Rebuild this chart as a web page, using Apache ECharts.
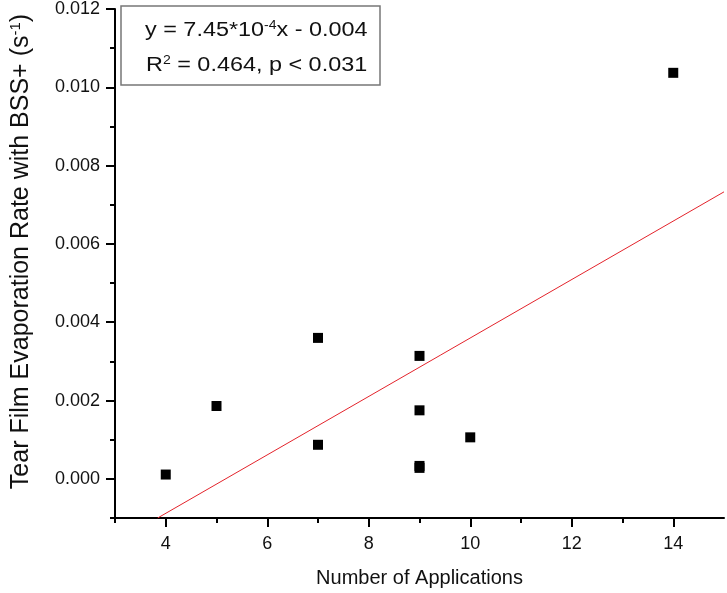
<!DOCTYPE html>
<html>
<head>
<meta charset="utf-8">
<script src="https://cdn.jsdelivr.net/npm/echarts@6/dist/echarts.min.js"></script>
<style>
  html, body { margin: 0; padding: 0; background: #fff; }
  #chart { width: 727px; height: 593px; }
</style>
</head>
<body>
<div id="chart"></div>
<script>
  // 数据：每个点的应用次数和蒸发率
  var applications = [4, 5, 7, 7, 9, 9, 9, 9, 10, 14];
  var evapRate = [0.00011, 0.00186, 0.0036, 0.00087, 0.00314, 0.00175, 0.00028, 0.00033, 0.00106, 0.01037];
  // 拟合直线两端
  var fitX = [3.84, 15];
  var fitY = [-0.001, 0.00733];
  // 刻度
  var xMajor = [4, 6, 8, 10, 12, 14];
  var xMinor = [3, 5, 7, 9, 11, 13];
  var yMajor = [0, 0.002, 0.004, 0.006, 0.008, 0.010, 0.012];
  var yMinor = [-0.001, 0.001, 0.003, 0.005, 0.007, 0.009, 0.011];

  var points = applications.map(function (x, i) { return [x, evapRate[i]]; });
  var fitLine = fitX.map(function (x, i) { return [x, fitY[i]]; });

  var font = '"Liberation Sans", Arial, sans-serif';
  var black = '#000';
  var chart = echarts.init(document.getElementById('chart'));

  var hideAll = { show: false };
  var supRich = {
    n: { fontFamily: font, fontSize: 20, fill: '#111' },
    s: { fontFamily: font, fontSize: 12, fill: '#111', verticalAlign: 'top', padding: [0, 0, 9, 0] }
  };

  chart.setOption({
    animation: false,
    grid: { left: 112, top: 7, right: 3, bottom: 75 },
    xAxis: [
      {
        type: 'value', min: 3, max: 15, interval: 1,
        position: 'bottom',
        name: 'Number of Applications',
        nameLocation: 'middle',
        nameGap: 50,
        nameTextStyle: { fontFamily: font, fontSize: 20, color: '#111' },
        axisLine: { onZero: false, lineStyle: { color: black, width: 2 } },
        axisTick: { customValues: xMajor, length: 9, lineStyle: { color: black, width: 2 } },
        axisLabel: { customValues: xMajor, fontFamily: font, fontSize: 18, color: '#111', margin: 17 },
        splitLine: hideAll
      },
      {
        type: 'value', min: 3, max: 15, interval: 1,
        position: 'bottom',
        axisLine: { show: false, onZero: false },
        axisTick: { customValues: xMinor, length: 5, lineStyle: { color: black, width: 2 } },
        axisLabel: hideAll,
        splitLine: hideAll
      }
    ],
    yAxis: [
      {
        type: 'value', min: -0.001, max: 0.012, interval: 0.001,
        position: 'left',
        name: '{n|Tear Film Evaporation Rate with BSS+ (s}{s|-1}{n|)}',
        nameLocation: 'middle',
        nameGap: 81,
        nameTextStyle: {
          padding: [0, 0, 0, 24],
          rich: {
            n: { fontFamily: font, fontSize: 25, color: '#111' },
            s: { fontFamily: font, fontSize: 15, color: '#111', verticalAlign: 'top', padding: [0, 0, 11, 0] }
          }
        },
        axisLine: { onZero: false, lineStyle: { color: black, width: 2 } },
        axisTick: { customValues: yMajor, length: 9, lineStyle: { color: black, width: 2 } },
        axisLabel: {
          customValues: yMajor, fontFamily: font, fontSize: 18, color: '#111', margin: 15,
          formatter: function (v) { return v.toFixed(3); }
        },
        splitLine: hideAll
      },
      {
        type: 'value', min: -0.001, max: 0.012, interval: 0.001,
        position: 'left',
        axisLine: { show: false, onZero: false },
        axisTick: { customValues: yMinor, length: 5, lineStyle: { color: black, width: 2 } },
        axisLabel: hideAll,
        splitLine: hideAll
      }
    ],
    series: [
      {
        type: 'line',
        data: fitLine,
        symbol: 'none',
        lineStyle: { color: '#e3232b', width: 1 },
        silent: true
      },
      {
        type: 'scatter',
        data: points,
        symbol: 'rect',
        symbolSize: 10,
        itemStyle: { color: black, opacity: 1 }
      }
    ],
    graphic: [
      {
        type: 'rect',
        shape: { x: 121, y: 6, width: 259, height: 79 },
        style: { fill: '#fff', stroke: '#777', lineWidth: 1.5 }
      },
      {
        type: 'text',
        x: 145, y: 20, scaleX: 1.17,
        style: { text: '{n|y = 7.45*10}{s|-4}{n|x - 0.004}', rich: supRich }
      },
      {
        type: 'text',
        x: 146, y: 55, scaleX: 1.17,
        style: { text: '{n|R}{s|2}{n| = 0.464, p < 0.031}', rich: supRich }
      }
    ]
  });
</script>
</body>
</html>
